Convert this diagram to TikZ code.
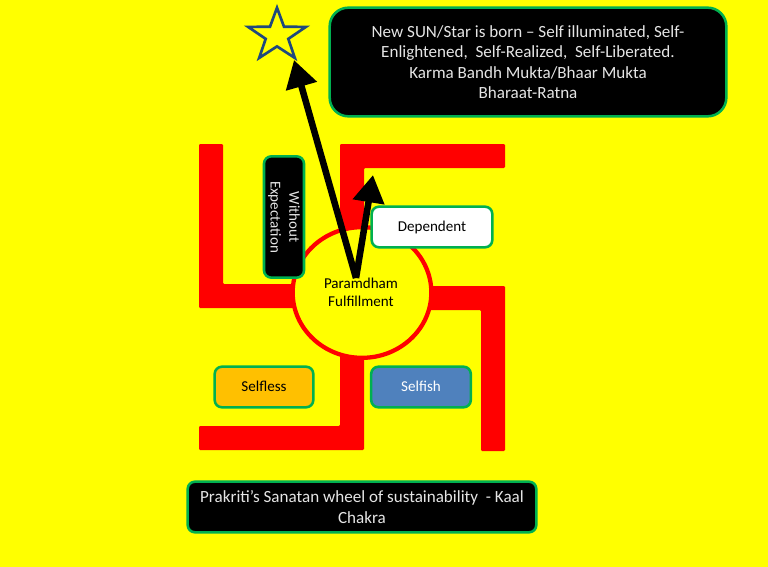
\documentclass[tikz,border=0pt]{standalone}
\usepackage{fontspec}
\setmainfont{Carlito}
\usetikzlibrary{arrows.meta,shapes.geometric}
\definecolor{bgy}{HTML}{FFFF00}
\definecolor{rd}{HTML}{FF0000}
\definecolor{grn}{HTML}{00B050}
\definecolor{orng}{HTML}{FFC000}
\definecolor{blu}{HTML}{4F81BD}
\definecolor{stardk}{HTML}{1F497D}
\tikzset{
  arm/.style={fill=rd,draw=none,rounded corners=0.8pt},
  tag/.style={draw=grn,line width=1.9pt,rounded corners=5.5pt,inner sep=0pt,align=center,font=\fontsize{11.3pt}{14pt}\selectfont},
  bigtext/.style={font=\fontsize{12.8pt}{15.4pt}\selectfont},
  darktag/.style={tag,fill=black,text=white!90!black},
  bigarrow/.style={draw=black,line width=4.9pt,-{Triangle[width=23pt,length=20.5pt]}},
  sized/.style 2 args={minimum width=#1*0.75pt-1pt,minimum height=#2*0.75pt-1pt}
}
\begin{document}
\begin{tikzpicture}[x=0.75pt,y=-0.75pt]
\useasboundingbox (0,0) rectangle (768,567);
\fill[bgy] (0,0) rectangle (768,567);
% swastika arms
\fill[arm] (199,144) -- (223,144) -- (223,284) -- (300,284) -- (300,308) -- (199,308) -- cycle;
\fill[arm] (340,240) -- (340,144) -- (505,144) -- (505,168) -- (364,168) -- (364,240) -- cycle;
\fill[arm] (420,286) -- (505,286) -- (505,451) -- (481,451) -- (481,310) -- (420,310) -- cycle;
\fill[arm] (364,345) -- (364,450) -- (199,450) -- (199,426) -- (340,426) -- (340,345) -- cycle;
% hub
\node[ellipse,draw=rd,fill=bgy,line width=3.2pt,minimum width=104pt,minimum height=98pt,inner sep=0pt] (hub) at (362,292.5) {};
% star
\node[star,star points=5,star point ratio=2.55,draw=stardk,line width=2pt,minimum size=45.5pt,inner sep=0pt,yscale=0.915,transform shape] (sun) at (277,35.5) {};
% boxes below the arrows
\node[darktag,rotate=-90,minimum width=91pt,minimum height=30pt] (noexp) at (284,217) {Without\\Expectation};
% arrows
\coordinate (src) at (356,278);
\coordinate (suntip) at (294,60);
\coordinate (deptip) at (373,175);
\draw[bigarrow] (src) -- (suntip);
\draw[bigarrow] (src) -- (deptip);
% boxes
\node[tag,fill=white,text=black,sized={122}{42}] (dep) at (432,227) {Dependent};
\node[tag,fill=orng,text=black,sized={100}{42}] (selfless) at (264,387) {\raisebox{1pt}{Selfless}};
\node[tag,fill=blu,text=white,sized={101}{42}] (selfish) at (421,387) {\raisebox{1pt}{Selfish}};
\node[darktag,bigtext,rounded corners=14pt,sized={398}{110}] (title) at (528,62) {New SUN/Star is born – Self illuminated, Self-\\Enlightened,\ \ Self-Realized,\ \ Self-Liberated.\\Karma Bandh\ Mukta/Bhaar Mukta\\Bharaat-Ratna};
\node[darktag,bigtext,sized={350}{52}] (caption) at (362,507) {Prakriti’s Sanatan wheel of sustainability\ \ - Kaal\\Chakra};
\node[align=center,inner sep=0pt,text=black,font=\fontsize{11.3pt}{13.5pt}\selectfont] (hubtext) at (361,292) {Paramdham\\Fulfillment};
\end{tikzpicture}
\end{document}
